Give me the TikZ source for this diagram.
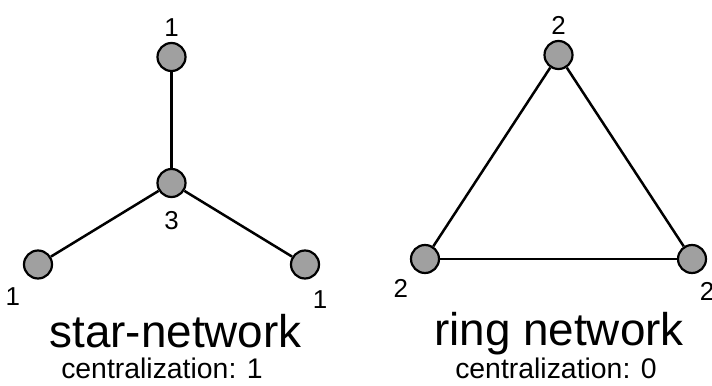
\documentclass[tikz,border=0pt]{standalone}
\usepackage{fontspec}
\setmainfont{Liberation Sans}
\usetikzlibrary{positioning}
\definecolor{nodegray}{RGB}{160,160,160}

\begin{document}
\begin{tikzpicture}[x=1bp, y=1bp, node distance=5bp,
    vertex/.style={circle, draw, line width=2.2bp, fill=nodegray, minimum size=28bp, inner sep=0pt},
    degree/.style={font=\fontsize{26}{26}\selectfont, inner sep=0pt},
    netname/.style={font=\fontsize{46}{46}\selectfont, inner sep=0pt, anchor=base},
    central/.style={font=\fontsize{28.5}{28.5}\selectfont, inner sep=0pt, anchor=base}]
        \useasboundingbox (0,0) rectangle (712,385);

        % star
        \node (s0) [vertex] at (171.5,202) {};
        \node (s1) [vertex] at (171.5,328) {};
        \node (s2) [vertex] at (38,120.5) {};
        \node (s3) [vertex] at (305,120.5) {};

        \node (d1) [degree, above=of s1] {1};
        \node (d0) [degree, below=13bp of s0] {3};
        \node (d2) [degree, below left=12bp and 7bp of s2] {1};
        \node (d3) [degree, below right=15bp and -3bp of s3] {1};

        \path[line width=2.5bp]
            (s0) edge (s1)
            (s0) edge (s2)
            (s0) edge (s3);

        % ring
        \node (r1) [vertex] at (558.5,330) {};
        \node (r2) [vertex] at (425,126) {};
        \node (r3) [vertex] at (692,126) {};

        \node (e1) [degree, above=of r1] {2};
        \node (e2) [degree, below left=10bp and 6bp of r2] {2};
        \node (e3) [degree, below right=13bp and -3bp of r3] {2};

        \path[line width=2.5bp]
            (r1) edge (r2)
            (r2) edge (r3)
            (r3) edge (r1);

        \node (starname) [netname] at (175.5,38) {star-network};
        \node (starc) [central] at (162,7) {centralization: 1};
        \node (ringname) [netname] at (559,40) {ring network};
        \node (ringc) [central] at (556,7) {centralization: 0};
    \end{tikzpicture}
\end{document}
